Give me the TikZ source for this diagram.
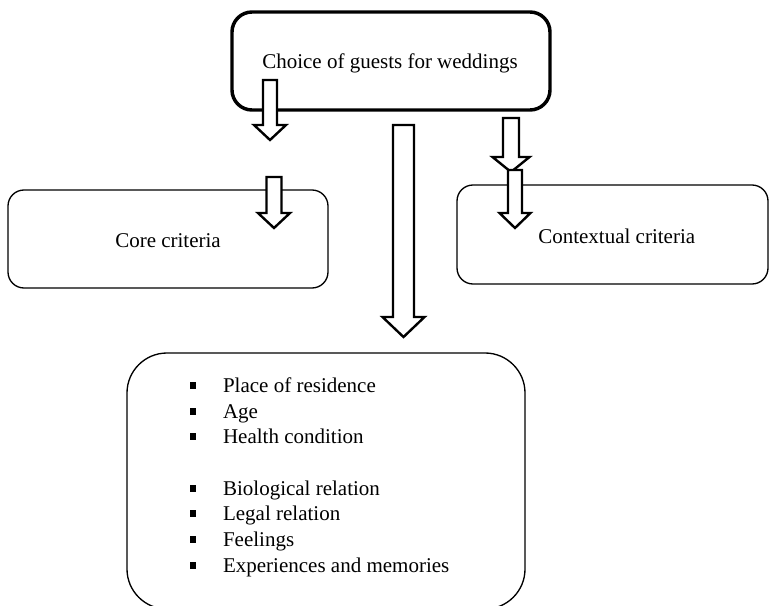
\documentclass[tikz,border=0pt]{standalone}
\usepackage{fontspec}
\setmainfont{Liberation Serif}
\newcommand\listbullet{\rule[2.6pt]{4.6pt}{4.6pt}\hspace{20pt}}
% hollow block arrow: centre x, top y, tip y, half shaft width, half head width, head length
\newcommand\blockarrow[6]{%
  \draw[hollowarrow] (#1-#4,#2) -- (#1+#4,#2) -- (#1+#4,#3-#6) -- (#1+#5,#3-#6)
    -- (#1,#3) -- (#1-#5,#3-#6) -- (#1-#4,#3-#6) -- cycle;}
\tikzset{
  txt/.style={font=\fontsize{15.75pt}{19pt}\selectfont},
  mainbox/.style={draw, line width=2.6pt, rounded corners=15pt, txt, inner sep=0pt},
  critbox/.style={draw, line width=1.0pt, rounded corners=12pt, txt, inner sep=0pt},
  listbox/.style={draw, line width=1.0pt, rounded corners=30pt, inner sep=0pt},
  label/.style={txt, anchor=base west, inner sep=0pt},
  item/.style={txt, anchor=base west, inner sep=0pt},
  hollowarrow/.style={draw, fill=white, line width=1.8pt, line join=miter}
}
\begin{document}
\begin{tikzpicture}[x=0.75pt, y=-0.75pt]
\path[use as bounding box, clip] (0,0) rectangle (770,606);

% boxes
\node[mainbox, minimum width=238.5pt, minimum height=73.5pt] (choice) at (391,61) {};
\node[label] (choicelabel) at (262,68.5) {Choice of guests for weddings};
\node[critbox, minimum width=240pt, minimum height=73.5pt] (core) at (168,239) {};
\node[label] (corelabel) at (115,247) {Core criteria};
\node[critbox, minimum width=233.25pt, minimum height=74.25pt] (context) at (612.5,234.5) {};
\node[label] (contextlabel) at (538,243) {Contextual criteria};
\node[listbox, minimum width=298.5pt, minimum height=192pt] (list) at (326,481) {};

% list of criteria
\node[item] (i1) at (190,392) {\listbullet Place of residence};
\node[item] (i2) at (190,418) {\listbullet Age};
\node[item] (i3) at (190,443) {\listbullet Health condition};
\node[item] (i4) at (190,495) {\listbullet Biological relation};
\node[item] (i5) at (190,520) {\listbullet Legal relation};
\node[item] (i6) at (190,546) {\listbullet Feelings};
\node[item] (i7) at (190,572) {\listbullet Experiences and memories};

% hollow arrows
\blockarrow{270}{80}{140}{7}{16}{15}
\blockarrow{403.5}{125}{337}{10.5}{21}{20}
\blockarrow{511}{118}{172}{8}{18.5}{15}
\blockarrow{515}{170}{228}{7}{15.5}{15}
\blockarrow{274}{177}{228}{7.5}{16}{15}
\end{tikzpicture}
\end{document}
